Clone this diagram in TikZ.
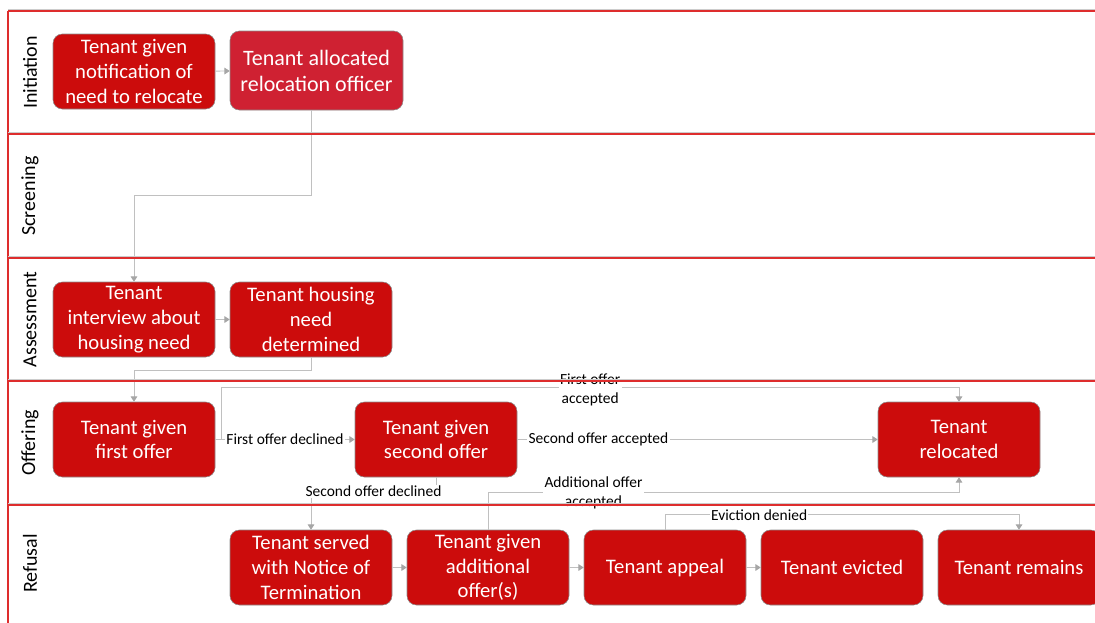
\documentclass[tikz,border=0pt]{standalone}
\usepackage{fontspec}
\setmainfont{Carlito}
\usetikzlibrary{arrows.meta,calc}
\definecolor{boxred}{RGB}{204,12,12}
\definecolor{boxpink}{RGB}{207,33,50}
\definecolor{lanered}{RGB}{222,45,45}
\definecolor{linegray}{RGB}{192,192,192}
\newcommand{\boxfont}{\fontsize{15.5}{18.5}\selectfont}
\newcommand{\lblfont}{\fontsize{11.6}{14}\selectfont}
\newcommand{\lanefont}{\fontsize{15}{18}\selectfont}

\begin{document}
\begin{tikzpicture}[x=0.75pt,y=-0.75pt,
  stage/.style={draw=black!45,fill=boxred,text=white,rounded corners=7pt,
    minimum width=121.5pt,minimum height=56.25pt,align=center,font=\boxfont,inner sep=2pt},
  conn/.style={linegray,line width=0.7pt,-{Triangle[width=5pt,length=4pt,color=black!35]}},
  lbl/.style={fill=white,text=black,font=\lblfont,align=center,inner sep=1pt},
  lane/.style={rotate=90,font=\lanefont}]
\useasboundingbox (0,0) rectangle (1095,622);

% initiation
\node[stage] (notify) at (134,71.5) {Tenant given\\notification of\\need to relocate};
\node[stage,fill=boxpink,minimum width=129.75pt,minimum height=59.25pt,
  font=\fontsize{16.5}{19.5}\selectfont] (officer) at (316.5,70.5) {Tenant allocated\\relocation officer};

% assessment
\node[stage] (interview) at (134,319.5) {Tenant\\interview about\\housing need};
\node[stage] (need) at (311,319.5) {Tenant housing\\need\\determined};

% offering
\node[stage] (first) at (134,439.5) {Tenant given\\first offer};
\node[stage] (second) at (436,439.5) {Tenant given\\second offer};
\node[stage] (relocated) at (959,439.5) {Tenant\\relocated};

% refusal
\node[stage] (notice) at (311,567.5) {Tenant served\\with Notice of\\Termination};
\node[stage] (additional) at (488,567.5) {Tenant given\\additional\\offer(s)};
\node[stage] (appeal) at (665,567.5) {Tenant appeal};
\node[stage] (evicted) at (842,567.5) {Tenant evicted};
\node[stage] (remains) at (1019,567.5) {Tenant remains};

% connectors
\draw[conn] (notify) -- (officer);
\draw[conn] (officer.south -| need.north) -- ++(0,85) -| (interview.north);
\draw[conn] (interview) -- (need);
\draw[conn] (need.south) -- ++(0,13) -| (first.north);
\draw[conn] (first) -- (second) node[lbl,midway] {First offer declined};
\draw[conn] (first.east) -- ++(6,0) |- ($(relocated.north)+(0,-14)$)
  node[lbl,pos=0.75,yshift=-1.5pt] {First offer\\accepted} -- (relocated.north);
\draw[conn] (second) -- (relocated) node[lbl,pos=0.225] {Second offer accepted};
\draw[conn] (second.south) -- ++(0,14) -| (notice.north)
  node[lbl,pos=0.25] {Second offer declined};
\draw[conn] (additional.north) -- ++(0,-37) -| (relocated.south)
  node[lbl,pos=0.112] {Additional offer\\accepted};
\draw[conn] (notice) -- (additional);
\draw[conn] (additional) -- (appeal);
\draw[conn] (appeal) -- (evicted);
\draw[conn] (appeal.north) -- ++(0,-15) -| (remains.north)
  node[lbl,pos=0.133] {Eviction denied};

% lanes
\draw[lanered,line width=0.8pt] (8,11) -- (8,625);
\foreach \y/\c/\name in {11/72.5/Initiation,134/196/Screening,258/319.5/Assessment,
    381/443/Offering,505/563.5/Refusal}{
  \draw[black!20,line width=0.5pt] (8,\y-1.5) -- (1100,\y-1.5);
  \draw[lanered,line width=0.8pt] (8,\y) -- (1100,\y);
  \node[lane] (lane-\name) at (30,\c) {\name};
}
\end{tikzpicture}
\end{document}
